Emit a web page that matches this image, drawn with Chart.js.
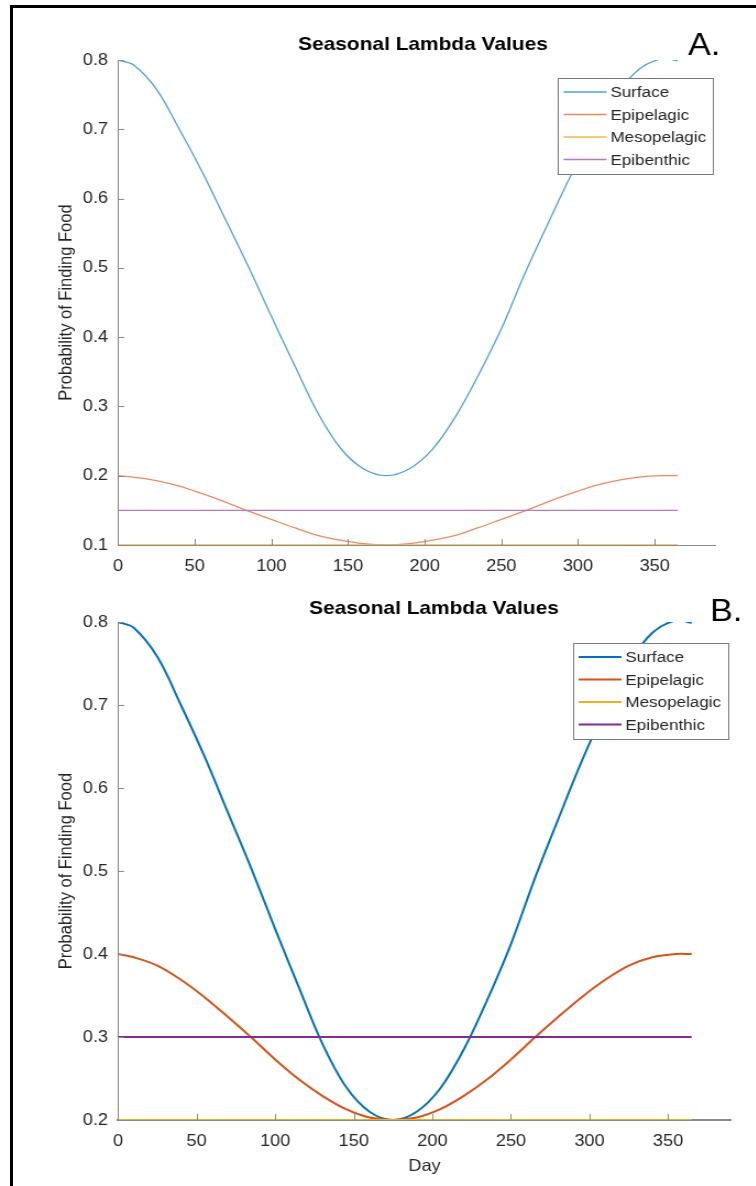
<!DOCTYPE html>
<html>
<head>
<meta charset="utf-8">
<script src="https://cdn.jsdelivr.net/npm/chart.js@4.4.0/dist/chart.umd.min.js"></script>
<style>
  html, body { margin: 0; padding: 0; background: #fff; }
  body { width: 756px; height: 1186px; position: relative; overflow: hidden; }
  .frame { position: absolute; left: 10px; top: 5px; width: 800px; height: 1300px;
           border-left: 3px solid #000; border-top: 3px solid #000; }
  /* the source picture is a little stretched sideways, so the canvases are too */
  canvas { position: absolute; left: 0; transform-origin: 0 0; transform: scaleX(1.1); }
  #chartA { top: 0; }
  #chartB { top: 580px; }
</style>
</head>
<body>
<div class="frame"></div>
<canvas id="chartA" width="688" height="590" style="width:688px;height:590px"></canvas>
<canvas id="chartB" width="688" height="606" style="width:688px;height:606px"></canvas>
<script>
// ---- data ----
const days = [0, 10, 25, 40, 55, 70, 85, 100, 115, 130, 145, 160, 175,
              190, 205, 220, 235, 250, 265, 280, 295, 310, 325, 340, 355, 365];
const flatDays = [0, 365];

// panel A
const surfaceA = [0.800, 0.793, 0.758, 0.700, 0.638, 0.570, 0.502, 0.430, 0.360, 0.292, 0.240, 0.210, 0.200,
                  0.210, 0.238, 0.285, 0.345, 0.412, 0.490, 0.562, 0.632, 0.695, 0.750, 0.787, 0.802, 0.799];
const epipelagicA = [0.200, 0.198, 0.193, 0.185, 0.174, 0.162, 0.149, 0.137, 0.125, 0.114, 0.107, 0.102, 0.100,
                     0.102, 0.107, 0.114, 0.125, 0.137, 0.149, 0.162, 0.174, 0.185, 0.193, 0.198, 0.200, 0.200];
const mesopelagicA = [0.10, 0.10];
const epibenthicA = [0.15, 0.15];

// panel B
const surfaceB = [0.800, 0.793, 0.758, 0.700, 0.638, 0.570, 0.502, 0.430, 0.360, 0.292, 0.240, 0.210, 0.200,
                  0.210, 0.238, 0.285, 0.345, 0.412, 0.490, 0.562, 0.632, 0.695, 0.750, 0.787, 0.802, 0.799];
const epipelagicB = [0.400, 0.396, 0.386, 0.369, 0.348, 0.324, 0.299, 0.273, 0.249, 0.229, 0.213, 0.203, 0.200,
                     0.203, 0.213, 0.229, 0.249, 0.273, 0.299, 0.324, 0.348, 0.369, 0.386, 0.396, 0.400, 0.400];
const mesopelagicB = [0.20, 0.20];
const epibenthicB = [0.30, 0.30];

const seriesNames = ['Surface', 'Epipelagic', 'Mesopelagic', 'Epibenthic'];
const xTicksStep = 50;
const yTicksStep = 0.1;

// ---- styling ----
const FONT = "'Liberation Sans', Arial, Helvetica, sans-serif";
const TEXT = '#262626';
const AXIS = '#8a8a8a';
const LIGHT = ['#4da0d8', '#ee8a62', '#f0b845', '#b57cc2'];   // panel A looks washed out
const DEEP  = ['#0072BD', '#D95319', '#EDB120', '#7E2F8E'];   // MATLAB defaults

function pts(xs, ys) {
  return xs.map((d, i) => ({ x: d, y: ys[i] }));
}

// MATLAB-ish decorations: inward ticks, title, panel letter, boxed legend
const matlabLook = {
  id: 'matlabLook',
  afterDraw(chart, args, o) {
    const { ctx, chartArea: a, scales: { x, y } } = chart;
    ctx.save();

    ctx.strokeStyle = AXIS;
    ctx.lineWidth = 1;
    ctx.beginPath();
    x.ticks.forEach(t => {
      const px = Math.round(x.getPixelForValue(t.value)) + 0.5;
      ctx.moveTo(px, a.bottom);
      ctx.lineTo(px, a.bottom - 6);
    });
    y.ticks.forEach(t => {
      const py = Math.round(y.getPixelForValue(t.value)) + 0.5;
      ctx.moveTo(a.left, py);
      ctx.lineTo(a.left + 5.5, py);
    });
    ctx.stroke();

    ctx.fillStyle = '#000';
    ctx.textBaseline = 'middle';
    ctx.textAlign = 'center';
    ctx.font = `bold 19px ${FONT}`;
    ctx.fillText(o.title, o.titleX, o.titleY);
    ctx.textAlign = 'left';
    ctx.font = `31px ${FONT}`;
    ctx.fillText(o.letter, o.letterX, o.letterY);

    // legend
    const bw = 141, rowH = 22.5;
    const bh = rowH * chart.data.datasets.length + 6;
    const bx = a.right - 3 - bw, by = a.top + o.legendTop;
    ctx.fillStyle = '#fff';
    ctx.fillRect(bx, by, bw, bh);
    ctx.strokeStyle = '#7a7a7a';
    ctx.lineWidth = 1;
    ctx.strokeRect(Math.round(bx) + 0.5, Math.round(by) + 0.5, bw, bh);
    ctx.font = `15.5px ${FONT}`;
    chart.data.datasets.forEach((ds, i) => {
      const cy = by + 14 + i * rowH;
      ctx.strokeStyle = ds.borderColor;
      ctx.lineWidth = Math.max(ds.borderWidth, 1.5);
      ctx.beginPath();
      ctx.moveTo(bx + 5.5, cy);
      ctx.lineTo(bx + 44.5, cy);
      ctx.stroke();
      ctx.fillStyle = TEXT;
      ctx.fillText(ds.label, bx + 48, cy + 1);
    });
    ctx.restore();
  }
};

function makeChart(id, cfg) {
  const colors = cfg.colors;
  const datasets = [
    { label: seriesNames[0], data: pts(days, cfg.surface), order: 4 },
    { label: seriesNames[1], data: pts(days, cfg.epi), order: 3 },
    { label: seriesNames[2], data: pts(flatDays, cfg.meso), order: 2, clip: cfg.mesoClip },
    { label: seriesNames[3], data: pts(flatDays, cfg.benthic), order: 1 },
  ].map((ds, i) => Object.assign(ds, {
    borderColor: colors[i],
    borderWidth: cfg.lineWidth,
    pointRadius: 0,
    tension: 0.35,
    fill: false,
  }));

  const tickFont = { family: FONT, size: 16.5 };

  return new Chart(document.getElementById(id), {
    type: 'line',
    data: { datasets },
    options: {
      responsive: false,
      animation: false,
      layout: { padding: { left: 47, right: cfg.padRight, top: cfg.padTop, bottom: 0 } },
      plugins: {
        legend: { display: false },
        tooltip: { enabled: false },
        matlabLook: cfg.decor,
      },
      scales: {
        x: {
          type: 'linear',
          min: 0,
          max: 390,
          z: cfg.axisOnTop ? 1 : 0,
          afterFit: s => { s.height = cfg.xHeight; },
          grid: { display: false, drawTicks: false },
          border: { display: true, color: AXIS, width: cfg.axisOnTop ? 2 : 1 },
          ticks: {
            stepSize: xTicksStep, includeBounds: false, autoSkip: false, maxRotation: 0,
            padding: 12, color: TEXT, font: tickFont,
          },
          title: {
            display: !!cfg.xTitle, text: cfg.xTitle || '', color: TEXT,
            font: tickFont, padding: { top: 10, bottom: 10 },
          },
        },
        y: {
          min: cfg.yMin,
          max: 0.8,
          afterFit: s => { s.width = 60.3; },
          grid: { display: false, drawTicks: false },
          border: { display: true, color: AXIS, width: 1 },
          ticks: {
            stepSize: yTicksStep, padding: 9, color: TEXT, font: tickFont,
            callback: v => v.toFixed(1),
          },
          title: {
            display: true, text: 'Probability of Finding Food', color: TEXT,
            font: tickFont, padding: { top: 4, bottom: 4 },
          },
        },
      },
    },
    plugins: [matlabLook],
  });
}

makeChart('chartA', {
  surface: surfaceA, epi: epipelagicA, meso: mesopelagicA, benthic: epibenthicA,
  colors: LIGHT, lineWidth: 1.3, yMin: 0.1,
  padTop: 60, padRight: 37.1, xHeight: 45,
  decor: { title: 'Seasonal Lambda Values', titleX: 384.5, titleY: 45,
           letter: 'A.', letterX: 625.5, letterY: 46, legendTop: 18 },
});

makeChart('chartB', {
  surface: surfaceB, epi: epipelagicB, meso: mesopelagicB, benthic: epibenthicB,
  colors: DEEP, lineWidth: 2, yMin: 0.2, mesoClip: 0, axisOnTop: true,
  padTop: 42, padRight: 23.5, xHeight: 66, xTitle: 'Day',
  decor: { title: 'Seasonal Lambda Values', titleX: 394.5, titleY: 29,
           letter: 'B.', letterX: 645.5, letterY: 32, legendTop: 21 },
});
</script>
</body>
</html>
